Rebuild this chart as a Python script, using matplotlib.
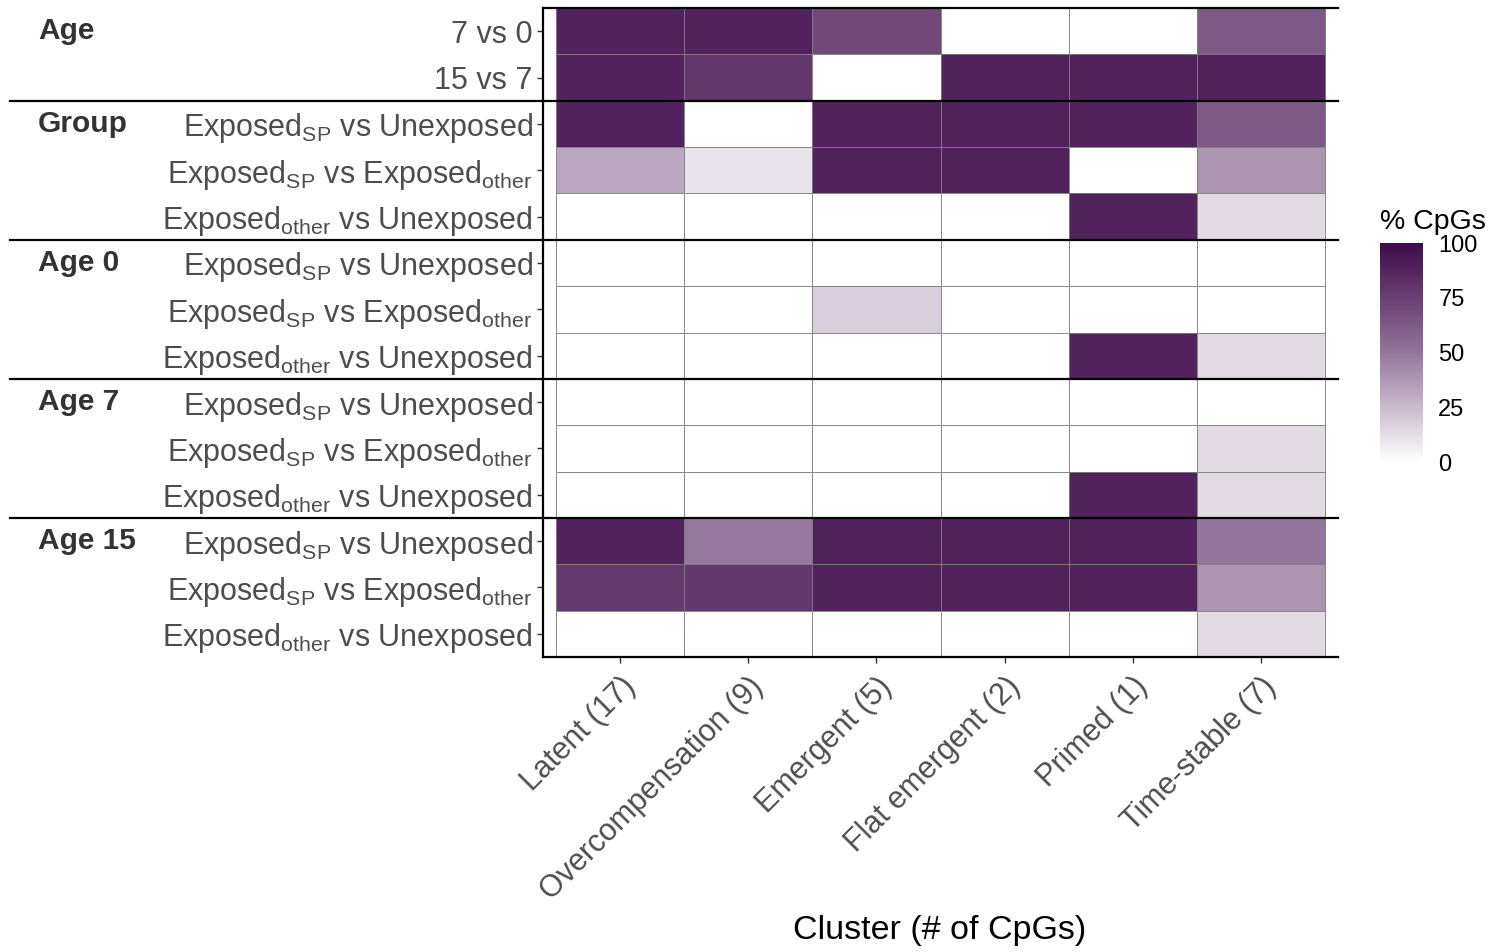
import numpy as np
import matplotlib
matplotlib.use("Agg")
import matplotlib.pyplot as plt
from matplotlib.colors import LinearSegmentedColormap
from matplotlib.transforms import blended_transform_factory

plt.rcParams["font.family"] = ["Liberation Sans", "DejaVu Sans"]
plt.rcParams["mathtext.fontset"] = "custom"
plt.rcParams["mathtext.rm"] = "Liberation Sans"

# clusters (x axis)
clusters = ["Latent (17)", "Overcompensation (9)", "Emergent (5)",
            "Flat emergent (2)", "Primed (1)", "Time-stable (7)"]

SP_UN = r"Exposed$_{\mathregular{SP}}$ vs Unexposed"
SP_OT = r"Exposed$_{\mathregular{SP}}$ vs Exposed$_{\mathregular{other}}$"
OT_UN = r"Exposed$_{\mathregular{other}}$ vs Unexposed"

# row groups and contrasts, top to bottom
groups = ["Age", "Group", "Age 0", "Age 7", "Age 15"]
group_rows = [
    ["7 vs 0", "15 vs 7"],
    [SP_UN, SP_OT, OT_UN],
    [SP_UN, SP_OT, OT_UN],
    [SP_UN, SP_OT, OT_UN],
    [SP_UN, SP_OT, OT_UN],
]

# % CpGs per contrast, one list per row (columns follow `clusters`)
age_7v0 = [100, 100, 80, 0, 0, 71.4]
age_15v7 = [100, 88.9, 0, 100, 100, 100]
grp_sp_un = [100, 0, 100, 100, 100, 71.4]
grp_sp_ot = [35.3, 11.1, 100, 100, 0, 42.9]
grp_ot_un = [0, 0, 0, 0, 100, 14.3]
a0_sp_un = [0, 0, 0, 0, 0, 0]
a0_sp_ot = [0, 0, 20, 0, 0, 0]
a0_ot_un = [0, 0, 0, 0, 100, 14.3]
a7_sp_un = [0, 0, 0, 0, 0, 0]
a7_sp_ot = [0, 0, 0, 0, 0, 14.3]
a7_ot_un = [0, 0, 0, 0, 100, 14.3]
a15_sp_un = [100, 55.6, 100, 100, 100, 57.1]
a15_sp_ot = [88.2, 88.9, 100, 100, 100, 42.9]
a15_ot_un = [0, 0, 0, 0, 0, 14.3]

pct = np.array([age_7v0, age_15v7, grp_sp_un, grp_sp_ot, grp_ot_un,
                a0_sp_un, a0_sp_ot, a0_ot_un, a7_sp_un, a7_sp_ot, a7_ot_un,
                a15_sp_un, a15_sp_ot, a15_ot_un])

row_labels = [lab for rows in group_rows for lab in rows]
n_rows, n_cols = pct.shape

cmap = LinearSegmentedColormap.from_list(
    "purp", [(0, "#ffffff"), (0.5, "#92769a"), (1, "#3f0a4b")])

W, H = 1492, 952
fig = plt.figure(figsize=(W / 100, H / 100), dpi=100)
ax = fig.add_axes([543 / W, 1 - 657 / H, (1338 - 543) / W, (657 - 8) / H])

mesh = ax.pcolormesh(np.arange(n_cols + 1) - 0.5, np.arange(n_rows + 1) - 0.5,
                     pct, cmap=cmap, vmin=0, vmax=100, alpha=0.9,
                     edgecolors="#808080", linewidth=0.7)
ax.set_xlim(-0.6, n_cols - 0.4)
ax.set_ylim(n_rows - 0.5, -0.5)

ax.set_yticks(range(n_rows))
ax.set_yticklabels(row_labels, fontsize=22, color="#4d4d4d")
ax.set_xticks(range(n_cols))
ax.set_xticklabels(clusters, fontsize=22, color="#4d4d4d", rotation=45,
                   ha="right", va="top", rotation_mode="anchor")
ax.tick_params(axis="both", length=4.5, width=1, color="#333333", pad=3)
ax.tick_params(axis="x", pad=6)
for s in ["left", "bottom", "top"]:
    ax.spines[s].set_linewidth(1.6)
    ax.spines[s].set_color("black")
ax.spines["right"].set_visible(False)
fig.text(940 / W, 1 - 930 / H, "Cluster (# of CpGs)", fontsize=24.5,
         ha="center", va="center")

# group separators and group labels
xmin = (10 - 543) / (1338 - 543)
lab_tr = blended_transform_factory(fig.transFigure, ax.transData)
start = 0
for g, rows in zip(groups, group_rows):
    if start > 0:
        ax.axhline(start - 0.5, xmin=xmin, xmax=1, color="black", lw=1.6,
                   clip_on=False)
    ax.text(38 / W, start, g, transform=lab_tr, fontsize=21.5,
            fontweight="bold", color="#333333", ha="left", va="center")
    start += len(rows)

# colour bar
cax = fig.add_axes([1380 / W, 1 - 462 / H, 43 / W, 219 / H])
cb = fig.colorbar(plt.cm.ScalarMappable(cmap=cmap, norm=mesh.norm), cax=cax,
                  ticks=[0, 25, 50, 75, 100])
cb.outline.set_visible(False)
cax.tick_params(length=5, color="white", labelsize=17, pad=6)
cax.set_title("% CpGs", fontsize=20.5, loc="left", pad=10, x=0.0)

fig.savefig("out.png", dpi=100)
